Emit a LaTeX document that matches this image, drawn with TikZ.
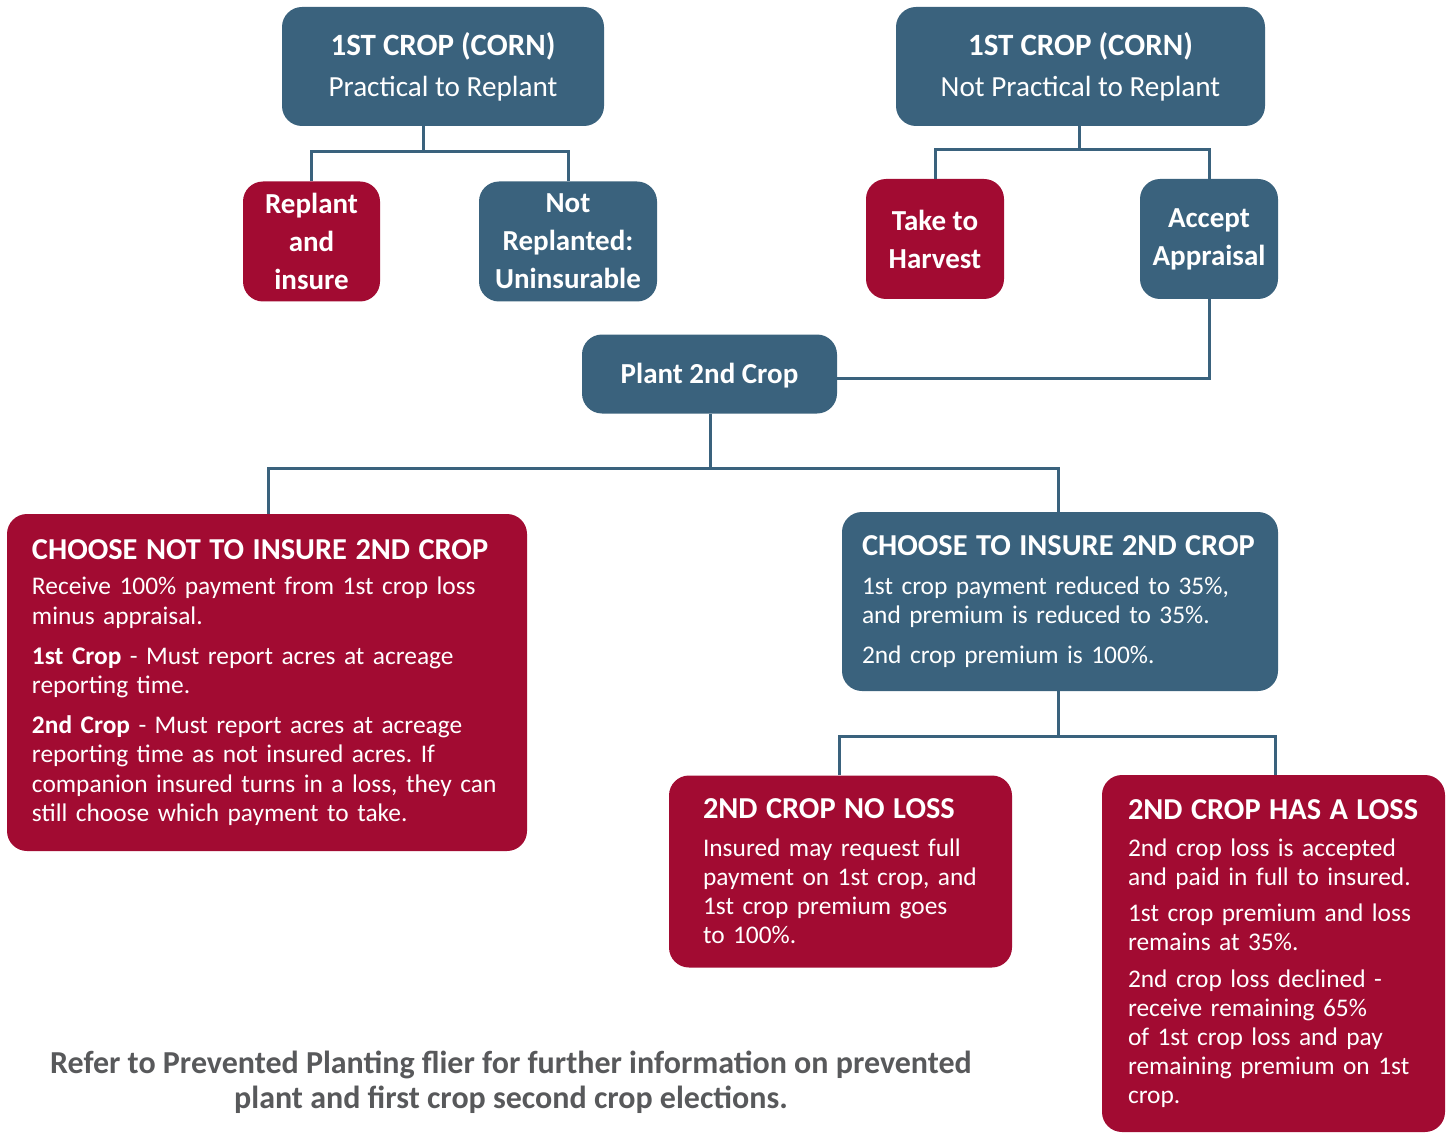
\documentclass[tikz,border=0pt]{standalone}
\usepackage{fontspec}
\setmainfont{Carlito}
\usepackage{xcolor}
\usetikzlibrary{positioning,calc}
\frenchspacing

\definecolor{slateblue}{HTML}{3A627D}
\definecolor{cropred}{HTML}{A20B32}
\definecolor{notegray}{HTML}{58595B}

\begin{document}
\begin{tikzpicture}[
    x=0.5pt, y=-0.5pt,
    box/.style={rounded corners=10pt, text=white, inner sep=0pt, align=center},
    bluebox/.style={box, fill=slateblue},
    redbox/.style={box, fill=cropred},
    small/.style={font=\fontsize{14.5}{19}\selectfont\bfseries},
    big/.style={align=left, font=\fontsize{12.7}{14.6}\selectfont},
    link/.style={draw=slateblue, line width=1.5pt},
  ]
  \useasboundingbox (0,0) rectangle (1451,1134);
  % top row
  \node[bluebox, minimum width=161pt, minimum height=59.5pt,
        font=\fontsize{14.6}{20.5}\selectfont] (top1) at (443,66.5)
    {{\fontsize{15.5}{17}\selectfont\bfseries 1ST CROP (CORN)}\\Practical to Replant};
  \node[bluebox, minimum width=184.5pt, minimum height=59.5pt,
        font=\fontsize{14.6}{20.5}\selectfont] (top2) at (1080.5,66.5)
    {{\fontsize{15.5}{17}\selectfont\bfseries 1ST CROP (CORN)}\\Not Practical to Replant};
  % choices
  \node[redbox, small, minimum width=68.5pt, minimum height=60pt] (replant) at (311.5,241.5)
    {Replant\\and\\insure};
  \node[bluebox, small, minimum width=89pt, minimum height=60pt] (notrep) at (568,241.5)
    {Not\\Replanted:\\Uninsurable};
  \node[redbox, small, minimum width=69pt, minimum height=60pt] (harvest) at (935,239)
    {Take to\\Harvest};
  \node[bluebox, small, minimum width=69pt, minimum height=60pt] (appraisal) at (1209,239)
    {Accept\\Appraisal};
  \node[bluebox, small, minimum width=127.5pt, minimum height=39.5pt, text depth=1pt] (plant) at (709.5,374)
    {Plant 2nd Crop};
  % second crop
  \node[redbox, big, text width=235pt, inner xsep=12.5pt, minimum height=168.5pt] (notins) at (267,682.5)
    {{\fontsize{15.2}{17}\selectfont\bfseries CHOOSE NOT TO INSURE 2ND CROP}\\[3pt]
     Receive 100\% payment from 1st crop loss\\minus appraisal.\\[5.5pt]
     \textbf{1st Crop} - Must report acres at acreage\\reporting time.\\[5.5pt]
     \textbf{2nd Crop} - Must report acres at acreage\\reporting time as not insured acres. If\\companion insured turns in a loss, they can\\still choose which payment to take.};
  \node[bluebox, big, text width=198pt, inner xsep=10pt, minimum height=89.5pt] (ins) at (1060,601.5)
    {{\fontsize{15.2}{17}\selectfont\bfseries CHOOSE TO INSURE 2ND CROP}\\[5pt]
     1st crop payment reduced to 35\%,\\and premium is reduced to 35\%.\\[5.5pt]
     2nd crop premium is 100\%.};
  \node[redbox, big, text width=137.5pt, inner xsep=17pt, minimum height=96pt] (noloss) at (840.5,871.5)
    {{\fontsize{15.2}{17}\selectfont\bfseries 2ND CROP NO LOSS}\\[4pt]
     Insured may request full\\payment on 1st crop, and\\1st crop premium goes\\to 100\%.};
  \node[redbox, big, text width=145.5pt, inner xsep=13pt, minimum height=178.5pt] (hasloss) at (1273.5,953.5)
    {{\fontsize{15.2}{17}\selectfont\bfseries 2ND CROP HAS A LOSS}\\[4pt]
     2nd crop loss is accepted\\and paid in full to insured.\\[3.5pt]
     1st crop premium and loss\\remains at 35\%.\\[3.5pt]
     2nd crop loss declined -\\receive remaining 65\%\\of 1st crop loss and pay\\remaining premium on 1st\\crop.};
  % note
  \node[align=center, text=notegray, font=\fontsize{16}{17.5}\selectfont\bfseries] (note) at (511,1082)
    {Refer to Prevented Planting flier for further information on prevented\\
     plant and first crop second crop elections.};
  % connectors
  \coordinate (j1) at (423,152);
  \coordinate (j2) at (1079,150);
  \coordinate (j3) at (710,468);
  \coordinate (j4) at (1058,736);
  \draw[link] (j1 |- top1.south) -- (j1);
  \draw[link] (replant.north) |- (j1) -| (notrep.north);
  \draw[link] (j2 |- top2.south) -- (j2);
  \draw[link] (harvest.north) |- (j2) -| (appraisal.north);
  \draw[link] (appraisal.south) |- (plant.east |- 0,378);
  \draw[link] (j3 |- plant.south) -- (j3);
  \draw[link] (notins.north -| 268,0) |- (j3) -| (ins.north -| j4);
  \draw[link] (j4 |- ins.south) -- (j4);
  \draw[link] (noloss.north -| 839,0) |- (j4) -| (hasloss.north -| 1275,0);
\end{tikzpicture}
\end{document}
